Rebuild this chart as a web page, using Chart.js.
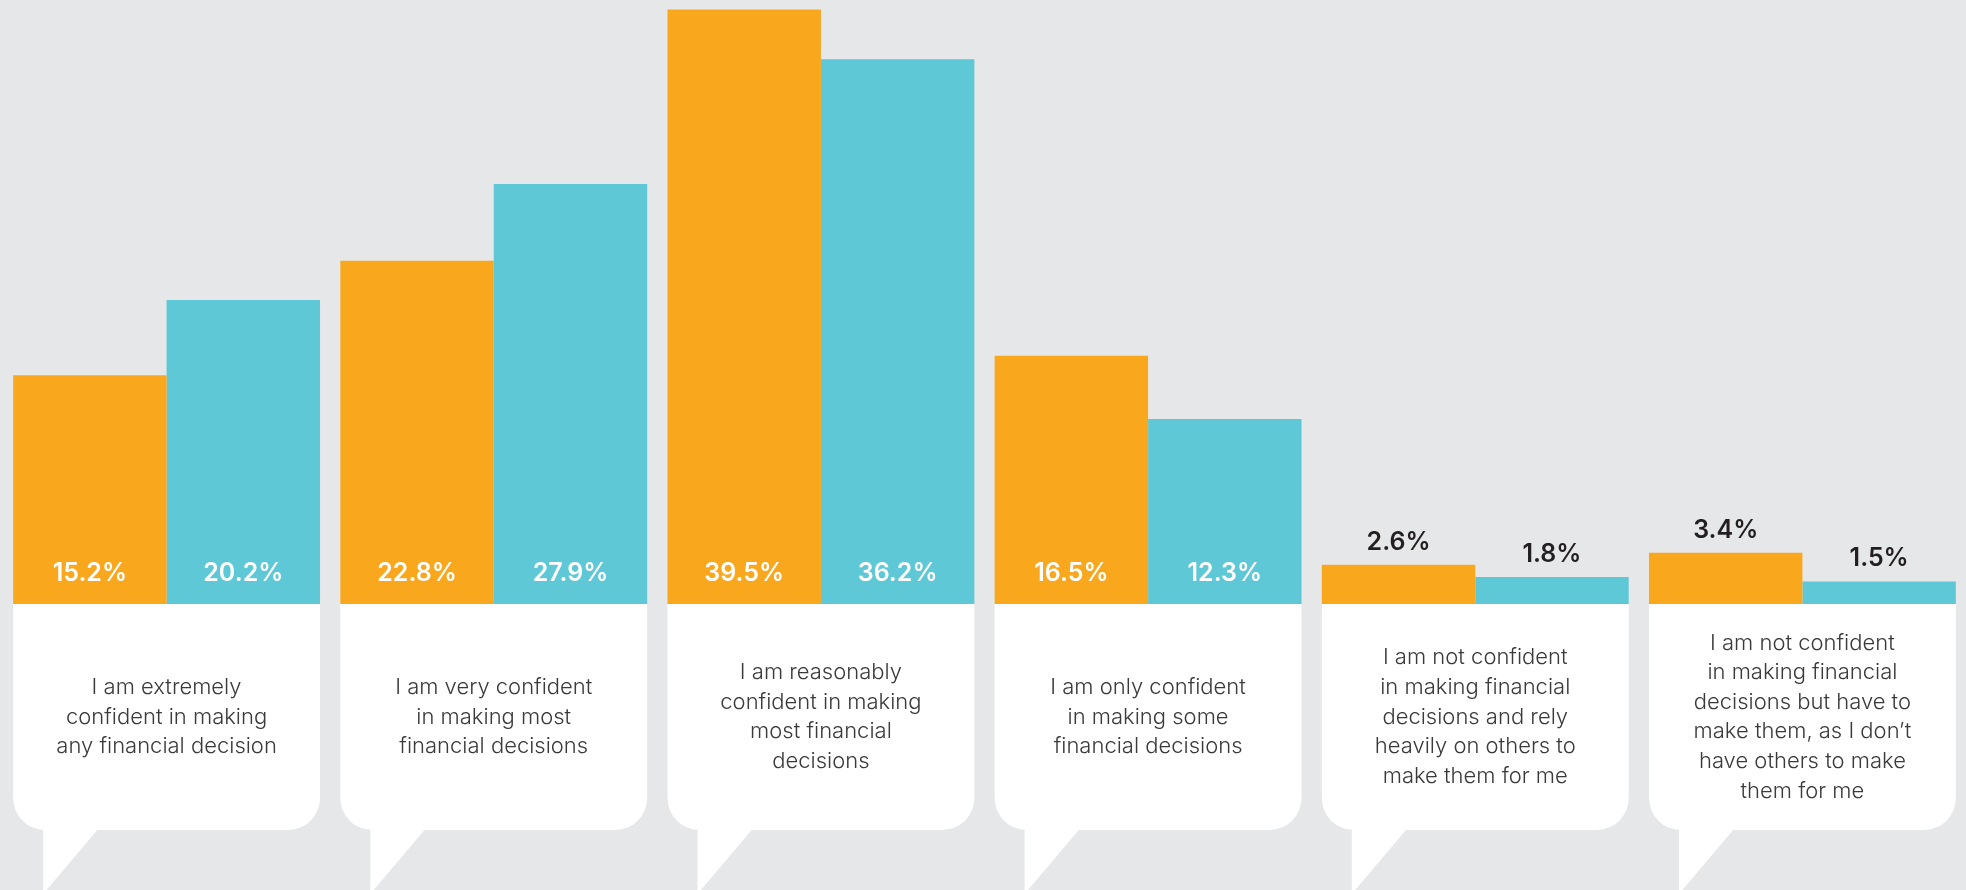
<!DOCTYPE html>
<html>
<head>
<meta charset="utf-8">
<script src="https://cdn.jsdelivr.net/npm/chart.js@4/dist/chart.umd.min.js"></script>
<style>
  html, body { margin: 0; padding: 0; background: #E6E7E9; }
  #wrap { position: relative; width: 1966px; height: 890px; }
</style>
</head>
<body>
<div id="wrap"><canvas id="chart"></canvas></div>
<script>
// Confidence in making financial decisions, two respondent groups
const categories = [
  ["I am extremely", "confident in making", "any financial decision"],
  ["I am very confident", "in making most", "financial decisions"],
  ["I am reasonably", "confident in making", "most financial", "decisions"],
  ["I am only confident", "in making some", "financial decisions"],
  ["I am not confident", "in making financial", "decisions and rely", "heavily on others to", "make them for me"],
  ["I am not confident", "in making financial", "decisions but have to", "make them, as I don\u2019t", "have others to make", "them for me"]
];
const seriesOrange = [15.2, 22.8, 39.5, 16.5, 2.6, 3.4];
const seriesTeal   = [20.2, 27.9, 36.2, 12.3, 1.8, 1.5];

const ORANGE = '#F9A81E';
const TEAL = '#5EC8D6';

// White speech-bubble panels under each pair of bars, with the category text
const calloutPlugin = {
  id: 'callouts',
  afterDatasetsDraw(chart) {
    const ctx = chart.ctx;
    const area = chart.chartArea;
    const m0 = chart.getDatasetMeta(0);
    const m1 = chart.getDatasetMeta(1);
    const top = area.bottom;
    const bottom = top + 226;
    const r = 32;
    ctx.save();
    categories.forEach((lines, i) => {
      const b0 = m0.data[i], b1 = m1.data[i];
      const left = b0.x - b0.width / 2;
      const right = b1.x + b1.width / 2;
      ctx.fillStyle = '#FFFFFF';
      ctx.beginPath();
      ctx.moveTo(left, top);
      ctx.lineTo(right, top);
      ctx.lineTo(right, bottom - r);
      ctx.arcTo(right, bottom, right - r, bottom, r);
      ctx.lineTo(left + r, bottom);
      ctx.arcTo(left, bottom, left, bottom - r, r);
      ctx.closePath();
      ctx.fill();
      // tail
      ctx.beginPath();
      ctx.moveTo(left + 30, bottom - 1);
      ctx.lineTo(left + 85, bottom - 1);
      ctx.lineTo(left + 30, bottom + 64);
      ctx.closePath();
      ctx.fill();
      // text
      const cx = (left + right) / 2;
      const cy = (top + bottom) / 2;
      const lh = 29.6;
      ctx.fillStyle = '#3A3A3A';
      ctx.font = '300 22px Inter, Lato, sans-serif';
      ctx.textAlign = 'center';
      ctx.textBaseline = 'middle';
      const start = cy - (lines.length - 1) * lh / 2;
      lines.forEach((t, k) => ctx.fillText(t, cx, start + k * lh));
    });
    ctx.restore();
  }
};

// Percentage labels: inside tall bars, above short ones
const valueLabelPlugin = {
  id: 'valueLabels',
  afterDatasetsDraw(chart) {
    const ctx = chart.ctx;
    const base = chart.chartArea.bottom;
    ctx.save();
    ctx.font = '600 25px Inter, Lato, sans-serif';
    ctx.textAlign = 'center';
    ctx.textBaseline = 'alphabetic';
    chart.data.datasets.forEach((ds, di) => {
      chart.getDatasetMeta(di).data.forEach((bar, i) => {
        const v = ds.data[i];
        const txt = v.toFixed(1) + '%';
        if (v >= 10) {
          ctx.fillStyle = '#FFFFFF';
          ctx.fillText(txt, bar.x, base - 23);
        } else {
          ctx.fillStyle = '#231F20';
          ctx.fillText(txt, bar.x, bar.y - 15);
        }
      });
    });
    ctx.restore();
  }
};

new Chart(document.getElementById('chart'), {
  type: 'bar',
  data: {
    labels: categories,
    datasets: [
      { label: 'Group A', data: seriesOrange, backgroundColor: ORANGE, borderWidth: 0 },
      { label: 'Group B', data: seriesTeal, backgroundColor: TEAL, borderWidth: 0 }
    ]
  },
  options: {
    responsive: true,
    maintainAspectRatio: false,
    animation: false,
    layout: { padding: { left: 3, right: 0, top: 2, bottom: 286 } },
    datasets: { bar: { categoryPercentage: 0.938, barPercentage: 1.0 } },
    plugins: { legend: { display: false }, tooltip: { enabled: false } },
    scales: {
      x: { display: false },
      y: { display: false, min: 0, max: 40 }
    }
  },
  plugins: [calloutPlugin, valueLabelPlugin]
});
</script>
</body>
</html>
